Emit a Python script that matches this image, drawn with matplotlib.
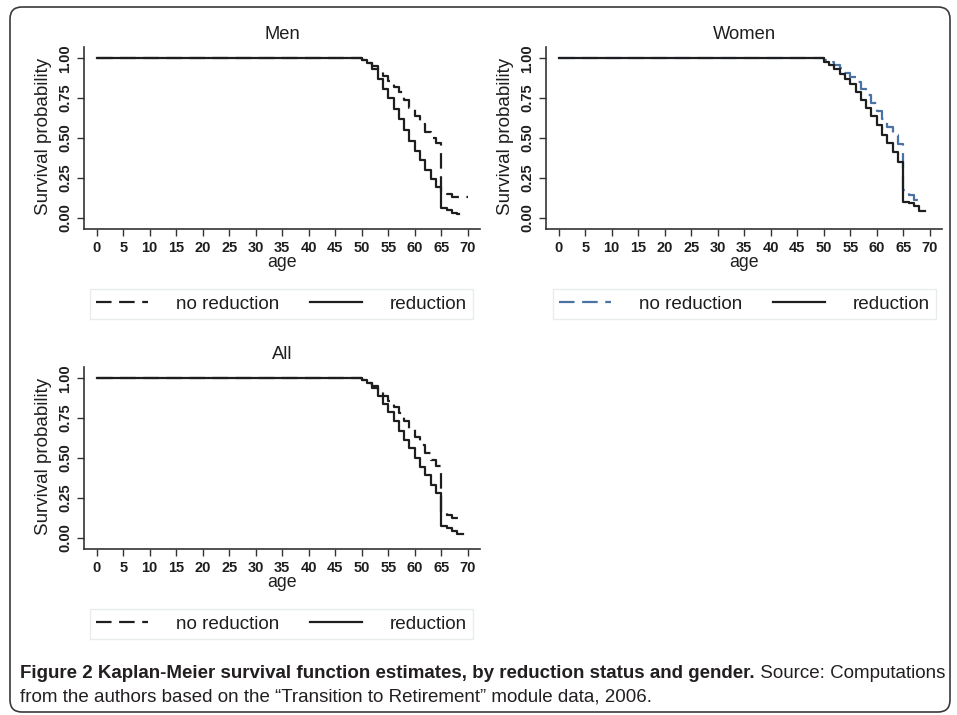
import matplotlib
matplotlib.use("Agg")
import matplotlib.pyplot as plt
from matplotlib import font_manager
from matplotlib.patches import FancyBboxPatch

# ---------------- data ----------------
step_ages = list(range(50, 69))  # ages at which the KM estimate steps

men_reduction = [0.99, 0.97, 0.93, 0.87, 0.81, 0.75, 0.68, 0.62, 0.55, 0.48,
                 0.42, 0.36, 0.30, 0.24, 0.19, 0.06, 0.045, 0.03, 0.02]
men_reduction_end = 68.4
men_no_reduction = [0.99, 0.97, 0.95, 0.92, 0.89, 0.86, 0.82, 0.79, 0.74, 0.69,
                    0.64, 0.59, 0.54, 0.50, 0.47, 0.16, 0.15, 0.13, 0.13]
men_no_reduction_end = 70.0

women_reduction = [0.98, 0.96, 0.93, 0.90, 0.87, 0.84, 0.79, 0.74, 0.69, 0.64,
                   0.58, 0.52, 0.47, 0.41, 0.35, 0.10, 0.09, 0.07, 0.04]
women_reduction_end = 69.0
women_no_reduction = [0.99, 0.98, 0.96, 0.94, 0.91, 0.88, 0.85, 0.81, 0.77, 0.72,
                      0.67, 0.62, 0.57, 0.52, 0.46, 0.17, 0.14, 0.11, 0.11]
women_no_reduction_end = 69.0

all_reduction = [0.99, 0.97, 0.94, 0.89, 0.84, 0.79, 0.73, 0.67, 0.61, 0.56,
                 0.50, 0.44, 0.39, 0.33, 0.28, 0.07, 0.06, 0.04, 0.025]
all_reduction_end = 69.0
all_no_reduction = [0.99, 0.97, 0.95, 0.92, 0.89, 0.86, 0.82, 0.78, 0.73, 0.68,
                    0.63, 0.58, 0.53, 0.49, 0.45, 0.16, 0.14, 0.12, 0.12]
all_no_reduction_end = 69.5

start_age = 0
start_survival = 1.0

panel_titles = ["Men", "Women", "All"]
legend_labels = ["no reduction", "reduction"]
x_label = "age"
y_label = "Survival probability"
x_ticks = list(range(0, 75, 5))
y_ticks = [0.0, 0.25, 0.5, 0.75, 1.0]
y_ticklabels = ["0.00", "0.25", "0.50", "0.75", "1.00"]

caption_bold = "Figure 2 Kaplan-Meier survival function estimates, by reduction status and gender."
caption_rest = " Source: Computations"
caption_line2 = "from the authors based on the \u201cTransition to Retirement\u201d module data, 2006."

# ---------------- style ----------------
W, H = 957, 715
BASE = ['Liberation Sans', 'DejaVu Sans']
plt.rcParams['font.family'] = BASE
names = {f.name for f in font_manager.fontManager.ttflist}
CAP_FONT = ['Liberation Sans Narrow', 'DejaVu Sans'] if 'Liberation Sans Narrow' in names else BASE

INK = '#1e1e1e'
BLUE = '#4a73a3'
DASH = (0, (7, 3.4))

fig = plt.figure(figsize=(W / 100, H / 100), dpi=100)
fig.patch.set_facecolor('white')


def rect(x0, y0, x1, y1):
    return [x0 / W, 1 - y1 / H, (x1 - x0) / W, (y1 - y0) / H]


panels = [
    dict(box=(84, 46.7, 480, 229.3), title=panel_titles[0],
         nored=(men_no_reduction, men_no_reduction_end), red=(men_reduction, men_reduction_end),
         dash_color=INK, leg=(90, 287, 473, 321)),
    dict(box=(546, 46.7, 942, 229.3), title=panel_titles[1],
         nored=(women_no_reduction, women_no_reduction_end), red=(women_reduction, women_reduction_end),
         dash_color=BLUE, leg=(553, 287, 936, 321)),
    dict(box=(84, 366.7, 480, 549.3), title=panel_titles[2],
         nored=(all_no_reduction, all_no_reduction_end), red=(all_reduction, all_reduction_end),
         dash_color=INK, leg=(90, 607, 473, 641)),
]


def series(vals, end):
    t = [start_age] + step_ages[:len(vals)] + [end]
    s = [start_survival] + list(vals) + [vals[-1]]
    return t, s


for p in panels:
    x0, y0, x1, y1 = p['box']
    ax = fig.add_axes(rect(x0, y0, x1, y1))
    t, s = series(*p['nored'])
    h1, = ax.step(t, s, where='post', color=p['dash_color'], lw=1.6, linestyle=DASH)
    t, s = series(*p['red'])
    h2, = ax.step(t, s, where='post', color=INK, lw=1.6)
    ax.set_xlim(-2.4, 72.3)
    ax.set_ylim(-0.074, 1.073)
    for side in ('top', 'right'):
        ax.spines[side].set_visible(False)
    for side in ('left', 'bottom'):
        ax.spines[side].set_color('#333333')
        ax.spines[side].set_linewidth(1.2)
    ax.set_xticks(x_ticks)
    ax.set_xticklabels([str(v) for v in x_ticks])
    ax.set_yticks(y_ticks)
    ax.set_yticklabels(y_ticklabels, rotation=90, va='center')
    ax.tick_params(direction='out', length=5, width=1.0, color='#333333',
                   labelsize=10.5, labelcolor=INK, pad=3.5)
    for lab in ax.get_xticklabels() + ax.get_yticklabels():
        lab.set_fontweight('bold')

    cx = (x0 + x1) / 2
    fig.text(cx / W, 1 - (y0 - 7.6) / H, p['title'], ha='center', va='baseline',
             fontsize=13.2, color=INK)
    fig.text(cx / W, 1 - (y1 + 37.4) / H, x_label, ha='center', va='baseline',
             fontsize=12.8, color=INK)
    fig.text((x0 - 40) / W, 1 - ((y0 + y1) / 2 - 1.5) / H, y_label, rotation=90,
             ha='center', va='center', fontsize=13.5, color=INK)

    lx0, ly0, lx1, ly1 = p['leg']
    leg = fig.legend([h1, h2], legend_labels, loc='center', ncol=2, mode='expand',
                     bbox_to_anchor=(lx0 / W, 1 - ly1 / H, (lx1 - lx0) / W, (ly1 - ly0) / H),
                     bbox_transform=fig.transFigure, borderaxespad=0,
                     fontsize=13.6, handlelength=2.75, handletextpad=1.45,
                     borderpad=0.33, frameon=True, fancybox=False)
    fr = leg.get_frame()
    fr.set_edgecolor('#e3e8e8')
    fr.set_linewidth(1.0)
    fr.set_facecolor('white')
    for txt in leg.get_texts():
        txt.set_color(INK)

# outer rounded border
border = FancyBboxPatch((0.10, 0.03), 9.40, 7.05,
                        boxstyle='round,pad=0,rounding_size=0.12',
                        transform=fig.dpi_scale_trans, facecolor='none',
                        edgecolor='#3a3a3a', linewidth=1.2)
fig.patches.append(border)

# caption, fitted to the reference width
fig.canvas.draw()
renderer = fig.canvas.get_renderer()
cap_size = 12.0
tb = fig.text(20 / W, 1 - 678 / H, caption_bold, fontweight='bold', fontsize=cap_size,
              family=CAP_FONT, color='#231f20', va='baseline')
tr = fig.text(0, 1 - 678 / H, caption_rest, fontsize=cap_size,
              family=CAP_FONT, color='#231f20', va='baseline')
wb = tb.get_window_extent(renderer).width
wr = tr.get_window_extent(renderer).width
scale = 924.0 / (wb + wr)
cap_size = cap_size * scale
tb.set_fontsize(cap_size)
tr.set_fontsize(cap_size)
fig.canvas.draw()
bb = tb.get_window_extent(renderer)
tr.set_x(bb.x1 / W)
fig.text(20 / W, 1 - 701 / H, caption_line2, fontsize=cap_size,
         family=CAP_FONT, color='#231f20', va='baseline')

fig.savefig('out.png', dpi=100, facecolor='white')
